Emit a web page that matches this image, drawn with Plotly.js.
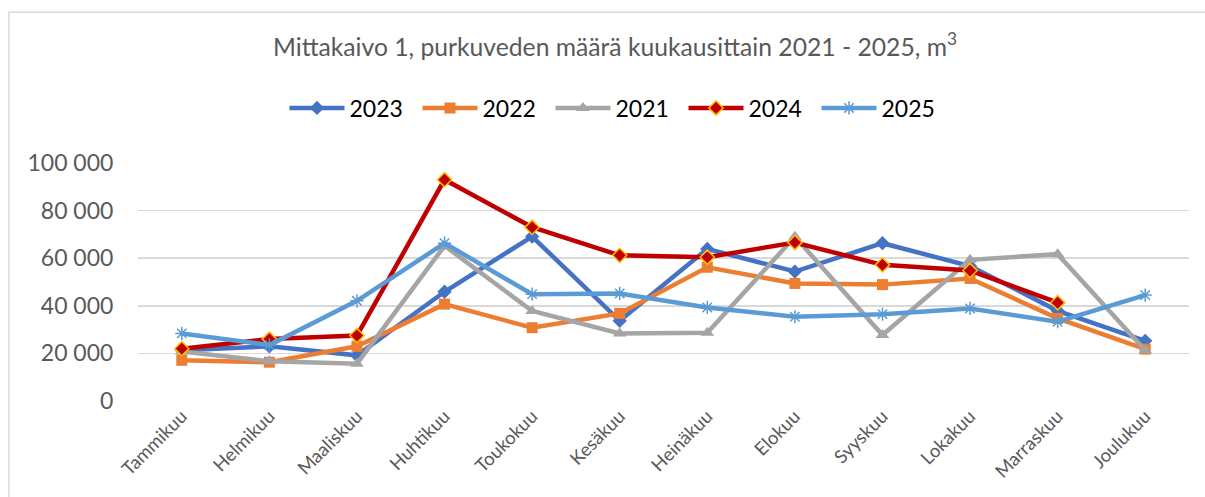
<!DOCTYPE html>
<html>
<head>
<meta charset="utf-8">
<script src="https://cdn.plot.ly/plotly-3.0.1.min.js"></script>
<style>html,body{margin:0;padding:0;background:#fff;}#chart{width:1205px;height:497px;}</style>
</head>
<body>
<div id="chart"></div>
<script>
const months = ["Tammikuu","Helmikuu","Maaliskuu","Huhtikuu","Toukokuu","Kesäkuu","Heinäkuu","Elokuu","Syyskuu","Lokakuu","Marraskuu","Joulukuu"];
const y2023 = [21300, 23000, 19200, 45900, 69100, 33700, 63900, 54400, 66300, 56700, 37900, 25300];
const y2022 = [17100, 16300, 23000, 40700, 30800, 36800, 56200, 49400, 48900, 51500, 34700, 21800];
const y2021 = [20800, 16700, 15700, 65200, 37800, 28400, 28700, 69000, 27700, 59300, 61700, 21300];
const y2024 = [22000, 26000, 27500, 93000, 73000, 61200, 60400, 66600, 57200, 54800, 41300, null];
const y2025 = [28400, 23500, 42100, 66300, 44900, 45200, 39300, 35400, 36500, 38900, 33300, 44500];
const titleText = "Mittakaivo 1, purkuveden määrä kuukausittain 2021 - 2025, m<sup>3</sup>";

const FONT = "Lato, 'Open Sans', sans-serif";
function tr(name, y, color, symbol, msize, mcolor, mline) {
  return {
    type: "scatter", mode: "lines+markers", name: name, x: months, y: y,
    line: {color: color, width: 4.5},
    marker: {symbol: symbol, size: msize, color: mcolor || color,
             line: mline || {width: 0, color: color}},
    connectgaps: false
  };
}
const data = [
  tr("2023", y2023, "#4472C4", "diamond", 11),
  tr("2022", y2022, "#ED7D31", "square", 11),
  tr("2021", y2021, "#A5A5A5", "triangle-up", 12),
  tr("2024", y2024, "#C00000", "diamond", 11, "#C00000", {width: 1.5, color: "#FFC000"}),
  tr("2025", y2025, "#5B9BD5", "asterisk-open", 11, "#5B9BD5", {width: 1.5, color: "#5B9BD5"})
];
const layout = {
  width: 1205, height: 497,
  margin: {l: 138, r: 16, t: 163, b: 96, pad: 0},
  paper_bgcolor: "#fff", plot_bgcolor: "#fff",
  font: {family: FONT, color: "#595959"},
  separators: ", ",
  title: {text: titleText, font: {family: FONT, size: 24.7, color: "#595959"},
          x: 615/1205, xref: "container", xanchor: "center",
          y: 1 - 47/497, yref: "container", yanchor: "middle"},
  showlegend: true,
  legend: {orientation: "h", x: 617/1205, xref: "container", xanchor: "center",
           y: 1 - 108/497, yref: "container", yanchor: "middle",
           font: {family: FONT, size: 23, color: "#000"}, itemwidth: 55,
           entrywidth: 63, entrywidthmode: "pixels", tracegroupgap: 0},
  xaxis: {type: "category", range: [-0.5, 11.5], tickangle: -45,
          tickfont: {family: FONT, size: 18.5, color: "#595959"},
          showgrid: false, zeroline: false, showline: false, ticks: "", automargin: false, fixedrange: true},
  yaxis: {range: [0, 100000], tickvals: [0, 20000, 40000, 60000, 80000, 100000], tickformat: ",d",
          tickfont: {family: FONT, size: 23, color: "#595959"},
          showgrid: true, gridcolor: "#D9D9D9", gridwidth: 1.5, zeroline: false, showline: false,
          ticks: "outside", ticklen: 19, tickcolor: "rgba(0,0,0,0)", automargin: false, fixedrange: true},
  shapes: [{type: "rect", xref: "paper", yref: "paper",
            x0: (9 - 138) / 1051, x1: 1.2, y0: -0.6, y1: (400.7 - 13) / 237.4,
            line: {color: "#D9D9D9", width: 1.5}, fillcolor: "rgba(0,0,0,0)", layer: "below"}]
};
Plotly.newPlot("chart", data, layout, {displayModeBar: false, staticPlot: true});
</script>
</body>
</html>
